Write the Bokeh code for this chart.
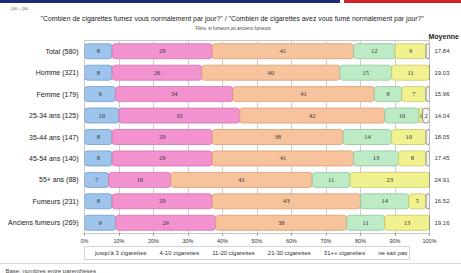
from bokeh.plotting import figure
from bokeh.layouts import column
from bokeh.models import (FactorRange, Range1d, ColumnDataSource, LabelSet, Legend,
                          LegendItem, FixedTicker, CategoricalAxis, Title)
from bokeh.embed import file_html
from bokeh.resources import INLINE

# ---------------- data ----------------
categories = ["Total (580)", "Homme (321)", "Femme (179)", "25-34 ans (125)", "35-44 ans (147)",
              "45-54 ans (140)", "55+ ans (88)", "Fumeurs (231)", "Anciens fumeurs (269)"]
series_names = ["jusqu'à 3 cigarettes", "4-10 cigarettes", "11-20 cigarettes",
                "21-30 cigarettes", "31++ cigarettes", "ne sait pas"]
s_upto3 = [8, 8, 9, 10, 8, 8, 7, 8, 9]
s_4_10 = [29, 26, 34, 35, 29, 29, 18, 29, 29]
s_11_20 = [41, 40, 41, 42, 38, 41, 41, 43, 38]
s_21_30 = [12, 15, 8, 10, 14, 13, 11, 14, 11]
s_31p = [9, 11, 7, 1, 10, 8, 23, 5, 13]
s_nsp = [1, 0, 1, 2, 1, 1, 0, 1, 0]
moyennes = ["17.84", "19.03", "15.96", "14.04", "18.05", "17.45", "24.91", "16.52", "19.16"]
tick_values = [0, 10, 20, 30, 40, 50, 60, 70, 80, 90, 100]
tick_labels = ["0%", "10%", "20%", "30%", "40%", "50%", "60%", "70%", "80%", "90%", "100%"]

title_text = "\"Combien de cigarettes fumez vous normalement par jour?\" / \"Combien de cigarettes avez vous fumé normalement par jour?\""
subtitle_text = "Filtre: si fumeurs ou anciens fumeurs"
question_code = "Q00 + Q00"
base_text = "Base: nombres entre parenthèses"
mean_header = "Moyenne"

series = [s_upto3, s_4_10, s_11_20, s_21_30, s_31p, s_nsp]
fills = ["#9fc4ec", "#f293cf", "#f7c39c", "#bdebc6", "#f1f190", "#f3f3f3"]
edges = ["#6f9bcb", "#d272b2", "#d99c70", "#8fc79d", "#c9c862", "#777777"]

FONT = "Liberation Sans"
W = 461
LB, RB = 84, 32

# ---------------- main chart (with header titles above) ----------------
p = figure(frame_width=W - LB - RB, frame_height=193,
           y_range=FactorRange(factors=list(reversed(categories))),
           x_range=(0, 100), output_backend="svg", toolbar_location=None,
           min_border_left=LB, min_border_right=RB, min_border_top=40, min_border_bottom=13)
p.extra_y_ranges = {"moy": FactorRange(factors=list(reversed(moyennes)))}
p.background_fill_color = "white"
p.border_fill_alpha = 0
p.styles = {"background": "linear-gradient(to right, #1f2a78 0px, #1f2a78 340px, #ffffff 340px, "
                          "#ffffff 344px, #d0242b 344px, #d0242b 100%) 0px 0px / 100% 3px no-repeat, #ffffff"}
p.outline_line_color = "#c8c8c8"
p.outline_line_width = 1

p.xgrid.ticker = FixedTicker(ticks=tick_values)
p.xgrid.grid_line_color = "#cfcfcf"
p.ygrid.grid_line_color = None

p.xaxis.ticker = FixedTicker(ticks=tick_values)
p.xaxis.major_label_overrides = dict(zip(tick_values, tick_labels))
p.xaxis.axis_line_color = None
p.xaxis.major_tick_line_color = "#888888"
p.xaxis.major_tick_out = 2
p.xaxis.major_tick_in = 0
p.xaxis.minor_tick_line_color = None
p.xaxis.major_label_text_font = FONT
p.xaxis.major_label_text_font_size = "5.5px"
p.xaxis.major_label_text_color = "#333333"
p.xaxis.major_label_standoff = 2

p.yaxis.axis_line_color = None
p.yaxis.major_tick_line_color = None
p.yaxis.major_tick_out = 0
p.yaxis.minor_tick_line_color = None
p.yaxis.major_label_text_font = FONT
p.yaxis.major_label_text_font_size = "7px"
p.yaxis.major_label_text_color = "#222222"
p.yaxis.major_label_standoff = 6

raxis = CategoricalAxis(y_range_name="moy", axis_line_color=None, major_tick_line_color=None,
                        major_tick_out=0, minor_tick_line_color=None, major_label_text_font=FONT,
                        major_label_text_font_size="6px", major_label_text_color="#333333",
                        major_label_standoff=5)
p.add_layout(raxis, "right")

lefts = [0] * len(categories)
for i, vals in enumerate(series):
    rights = [a + b for a, b in zip(lefts, vals)]
    mids = [(a + b) / 2 for a, b in zip(lefts, rights)]
    if i == 5:
        txt = [str(v) if v >= 2 else "" for v in vals]
    else:
        txt = [str(v) if v >= 1 else "" for v in vals]
    src = ColumnDataSource(dict(y=categories, left=lefts, right=rights, mid=mids, txt=txt))
    p.hbar(y="y", left="left", right="right", height=0.7, source=src,
           fill_color=fills[i], line_color=edges[i], line_width=0.8, border_radius=3)
    p.add_layout(LabelSet(x="mid", y="y", text="txt", source=src, text_align="center",
                          text_baseline="middle", text_font=FONT, text_font_size="6.5px",
                          text_color="#333333"))
    lefts = rights


def add_title(fig, text, size, offset, where, bold=False, color="#222222", standoff=0):
    fig.add_layout(Title(text=text, align="left", offset=offset, text_font=FONT,
                         text_font_size=size, text_color=color, standoff=standoff,
                         text_font_style="bold" if bold else "normal"), where)


# header titles (first added = nearest the frame)
add_title(p, mean_header, "7px", 428 - LB, "above", bold=True, standoff=1)
add_title(p, subtitle_text, "4.6px", 195 - LB, "above", color="#444444", standoff=0)
add_title(p, title_text, "6.9px", 40 - LB, "above", standoff=4)
add_title(p, question_code, "3.6px", 10 - LB, "above", color="#555555", standoff=0)

# ---------------- footer: legend + base note ----------------
foot = figure(width=W, height=27, x_range=Range1d(0, 1), y_range=Range1d(0, 1),
              output_backend="svg", toolbar_location=None, x_axis_type=None, y_axis_type=None,
              min_border_left=LB, min_border_right=RB, min_border_top=0, min_border_bottom=0)
foot.outline_line_color = None
foot.xgrid.grid_line_color = None
foot.ygrid.grid_line_color = None
foot.background_fill_alpha = 0
foot.border_fill_alpha = 0
foot.styles = {"background": "linear-gradient(#dcdcdc, #dcdcdc) 0px 17px / 100% 1px no-repeat, #ffffff"}

leg_renderers = []
for i, name in enumerate(series_names):
    r = foot.hbar(y=[], left=[], right=[], height=1, fill_color=fills[i], line_color=edges[i],
                  line_width=0.8)
    leg_renderers.append(r)
items = [LegendItem(label=n, renderers=[r]) for n, r in zip(series_names, leg_renderers)]
legend = Legend(items=items, orientation="horizontal", location="top_left",
                label_text_font=FONT, label_text_font_size="6px", label_text_color="#333333",
                glyph_width=6, glyph_height=6, label_standoff=2, spacing=5, padding=2,
                margin=0, border_line_color="#aaaaaa", border_line_width=1,
                background_fill_color="white", background_fill_alpha=1, label_height=8)
foot.add_layout(legend)
add_title(foot, base_text, "6px", 5 - LB, "below", color="#444444", standoff=0)

layout = column(p, foot, spacing=0)
open("out.html", "w").write(file_html(layout, INLINE))
